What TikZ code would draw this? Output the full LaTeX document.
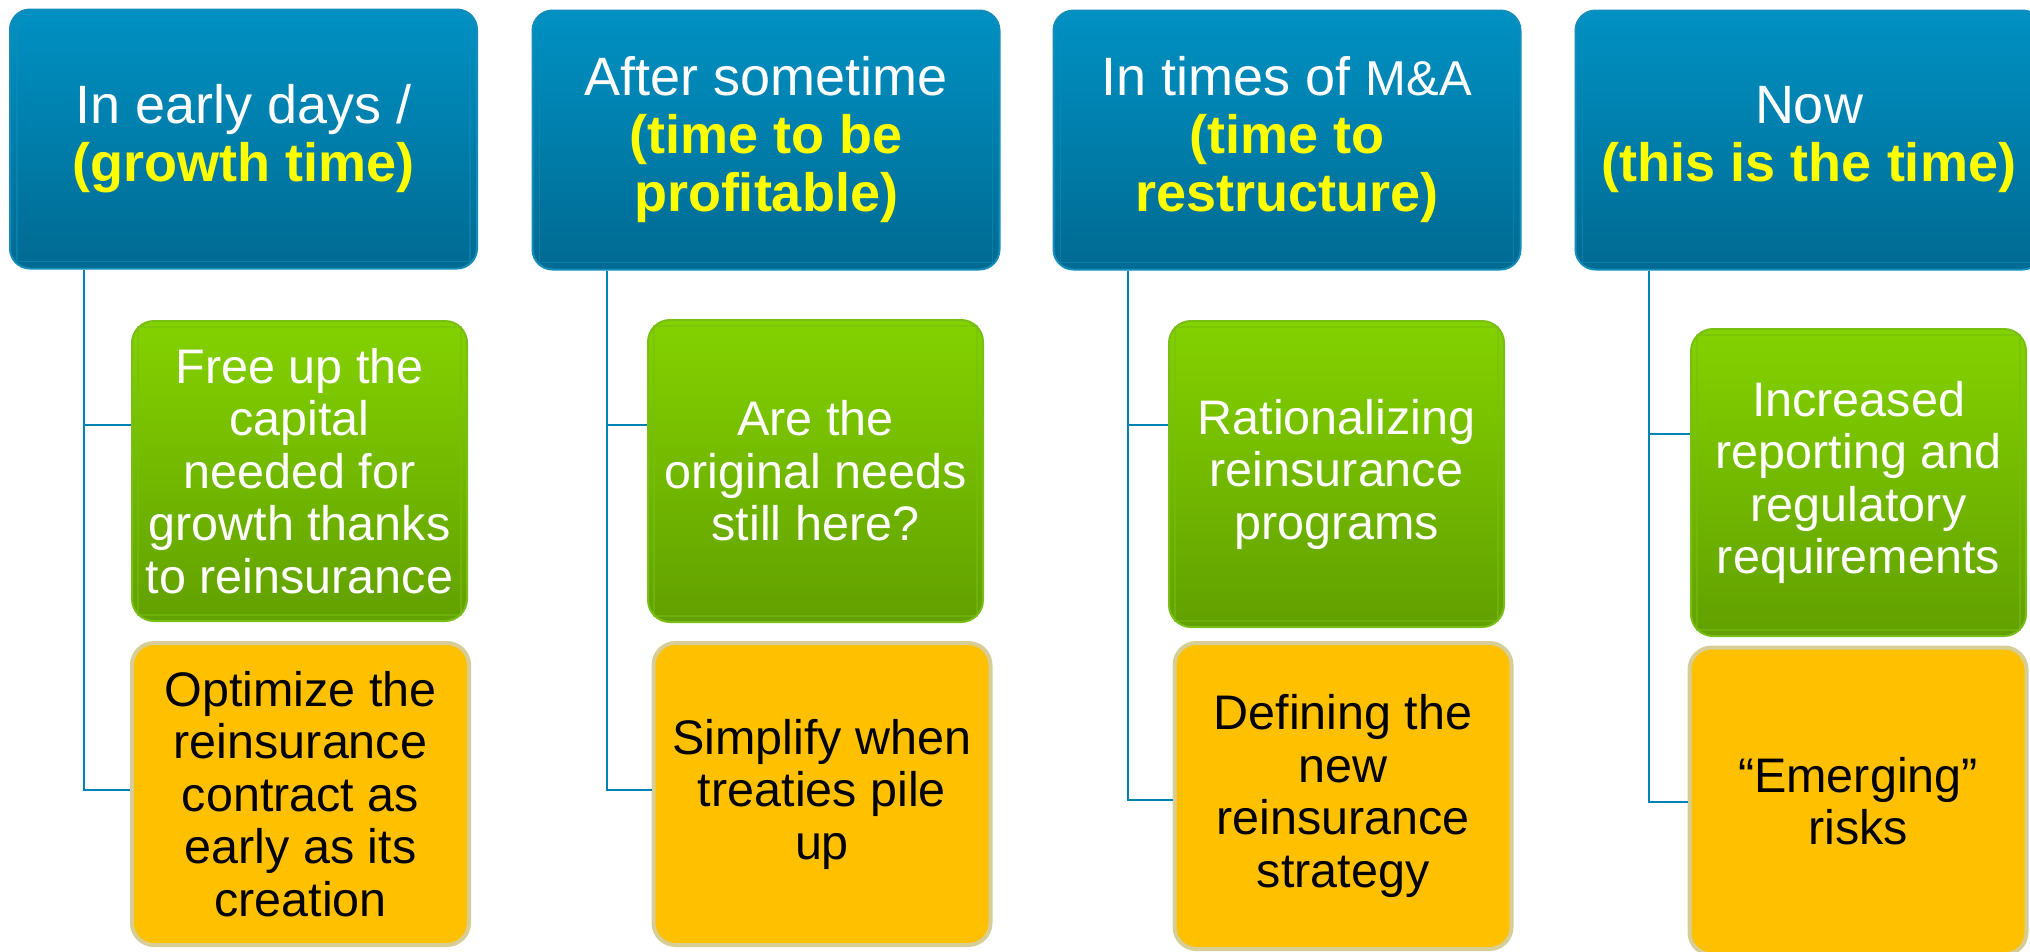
\documentclass[tikz,border=0pt]{standalone}
\usepackage{fontspec}
\setmainfont{Liberation Sans}
\definecolor{hdrTop}{RGB}{0,145,195}
\definecolor{hdrBot}{RGB}{0,106,146}
\definecolor{hdrEdge}{RGB}{18,140,186}
\definecolor{hlYellow}{RGB}{255,255,0}
\definecolor{gTop}{RGB}{132,210,0}
\definecolor{gBot}{RGB}{98,160,0}
\definecolor{gEdge}{RGB}{120,190,20}
\definecolor{oFill}{RGB}{255,192,0}
\definecolor{oEdge}{RGB}{214,206,150}
\definecolor{connCol}{RGB}{0,130,180}
\newcommand{\hl}[1]{{\color{hlYellow}\bfseries #1}}
\begin{document}
\begin{tikzpicture}[x=1pt,y=-1pt,
  hdr/.style={rectangle, rounded corners=20pt, draw=hdrEdge, line width=2pt,
    top color=hdrTop, bottom color=hdrBot, minimum width=467pt, minimum height=259pt,
    align=center, text=white, inner sep=0pt, font=\fontsize{54}{58}\selectfont},
  gbox/.style={rectangle, rounded corners=22pt, draw=gEdge, line width=2pt,
    top color=gTop, bottom color=gBot, minimum width=335pt,
    align=center, text=white, inner sep=0pt, font=\fontsize{48.5}{52.5}\selectfont},
  obox/.style={rectangle, rounded corners=22pt, draw=oEdge, line width=4pt,
    fill=oFill, minimum width=337pt,
    align=center, text=black, inner sep=0pt, font=\fontsize{48.5}{52.5}\selectfont},
  conn/.style={draw=connCol, line width=2pt},
  bevel/.style={line width=1.5pt, opacity=0.55}]
\useasboundingbox (0,0) rectangle (2030,951);
\clip (0,0) rectangle (2030,951);

% column headers
\node[hdr] (h1) at (243.5,139) {In early days /\\ \hl{(growth time)}};
\node[hdr] (h2) at (766,140) {After sometime\\ \hl{(time to be}\\ \hl{profitable)}};
\node[hdr] (h3) at (1287,140) {In times of {\fontsize{49}{58}\selectfont M\&A}\\ \hl{(time to}\\ \hl{restructure)}};
\node[hdr] (h4) at (1809,140) {Now\\ \hl{(this is the time)}};

% green items
\node[gbox, minimum height=300pt] (g1) at (299.5,471) {Free up the\\ capital\\ needed for\\ growth thanks\\ to reinsurance};
\node[gbox, minimum height=302pt] (g2) at (815.5,471) {Are the\\ original needs\\ still here?};
\node[gbox, minimum height=306pt] (g3) at (1336.5,474) {Rationalizing\\ reinsurance\\ programs};
\node[gbox, minimum height=307pt] (g4) at (1858.5,482.5) {Increased\\ reporting and\\ regulatory\\ requirements};

% orange items
\node[obox, minimum height=302pt] (o1) at (300.5,794) {Optimize the\\ reinsurance\\ contract as\\ early as its\\ creation};
\node[obox, minimum height=302pt] (o2) at (822,794) {Simplify when\\ treaties pile\\ up};
\node[obox, minimum height=306pt] (o3) at (1343,796) {Defining the\\ new\\ reinsurance\\ strategy};
\node[obox, minimum height=307pt] (o4) at (1858,801) {``Emerging''\\ risks};

% inner bevel lines
\foreach \n in {h1,h2,h3,h4}
  \draw[bevel, draw=hdrEdge] ([xshift=8pt,yshift=-8pt]\n.north west) rectangle ([xshift=-8pt,yshift=8pt]\n.south east);
\foreach \n in {g1,g2,g3,g4}
  \draw[bevel, draw=gEdge] ([xshift=7pt,yshift=-7pt]\n.north west) rectangle ([xshift=-7pt,yshift=7pt]\n.south east);

% connectors
\draw[conn] ([xshift=75pt]h1.south west) |- ([yshift=46pt]g1.west);
\draw[conn] ([xshift=75pt]h1.south west) |- ([yshift=4pt]o1.west);
\draw[conn] ([xshift=75pt]h2.south west) |- ([yshift=46pt]g2.west);
\draw[conn] ([xshift=75pt]h2.south west) |- ([yshift=4pt]o2.west);
\draw[conn] ([xshift=75pt]h3.south west) |- ([yshift=49pt]g3.west);
\draw[conn] ([xshift=75pt]h3.south west) |- ([yshift=-4pt]o3.west);
\draw[conn] ([xshift=74pt]h4.south west) |- ([yshift=48.5pt]g4.west);
\draw[conn] ([xshift=74pt]h4.south west) |- ([yshift=-1pt]o4.west);
\end{tikzpicture}
\end{document}
